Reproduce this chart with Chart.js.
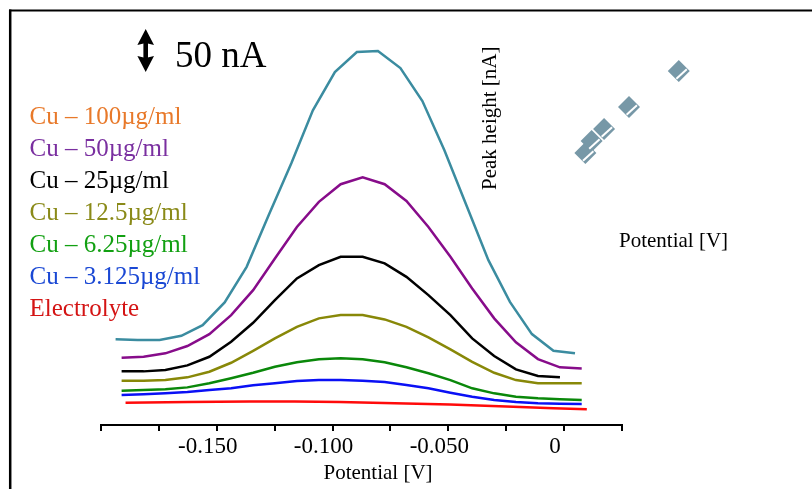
<!DOCTYPE html>
<html>
<head>
<meta charset="utf-8">
<script src="https://cdn.jsdelivr.net/npm/chart.js@4/dist/chart.umd.min.js"></script>
<style>
  html, body { margin: 0; padding: 0; background: #fff; }
  #wrap { width: 812px; height: 489px; }
</style>
</head>
<body>
<div id="wrap"><canvas id="dpvChart" width="812" height="489"></canvas></div>
<script>
// Potential axis (V) for the Cu 100 curve (drawn slightly shifted left)
const potentialTop = [-0.1937, -0.1842, -0.1747, -0.1653, -0.1561, -0.1466, -0.1371, -0.1276, -0.1178, -0.1085, -0.0990,
    -0.0895, -0.0804, -0.0707, -0.0612, -0.0517, -0.0422, -0.0327, -0.0234, -0.0139, -0.0046, 0.0047];
// Potential axis (V) for the other curves
const potential = [-0.1911, -0.1816, -0.1722, -0.1627, -0.1532, -0.1438, -0.1343, -0.1249, -0.1154, -0.1059, -0.0965,
    -0.0870, -0.0775, -0.0681, -0.0586, -0.0491, -0.0397, -0.0302, -0.0208, -0.0113, -0.0018, 0.0076];
const potentialElectrolyte = [-0.1894, -0.1358, -0.0969, -0.0493, -0.0190, 0.0098];

// Current (nA, offset traces)
const cu100 = [97.4, 96.6, 96.6, 101.5, 113.6, 139.4, 179.9, 238.6, 297.7, 357.9, 401.5,
    424.2, 425.3, 406.0, 368.5, 312.5, 250.0, 187.5, 140.1, 103.4, 84.4, 81.5];
const cu50 = [76.5, 77.6, 81.5, 89.8, 103.4, 125.0, 153.4, 189.4, 225.3, 253.8, 273.9,
    281.8, 273.9, 254.9, 225.3, 191.3, 155.3, 121.3, 94.0, 75.0, 65.6, 64.4];
const cu25 = [61.0, 61.0, 62.5, 67.8, 77.6, 94.7, 116.3, 142.0, 166.7, 181.8, 191.3,
    191.3, 183.8, 168.5, 147.7, 125.0, 98.5, 78.4, 63.3, 55.7, 54.2];
const cu12 = [50.3, 50.3, 51.1, 54.2, 60.6, 70.8, 84.4, 98.5, 111.7, 121.3, 125.0,
    125.0, 120.1, 111.7, 99.7, 86.0, 71.9, 59.4, 51.1, 47.4, 47.4, 47.4];
const cu6 = [39.0, 39.8, 40.6, 42.8, 47.4, 53.1, 59.4, 66.3, 71.3, 74.7, 75.8,
    74.7, 71.3, 65.6, 58.8, 51.1, 41.7, 36.0, 32.2, 30.3, 29.2, 28.4];
const cu3 = [34.1, 35.0, 36.0, 37.5, 39.8, 41.7, 45.1, 47.4, 50.0, 51.1, 51.1,
    50.3, 48.9, 45.5, 41.7, 36.7, 32.2, 28.4, 26.1, 24.7, 24.2, 23.9];
const electrolyte = [25.3, 26.7, 26.1, 23.3, 20.5, 17.8];

// Inset: peak height vs concentration
const insetConc = [3.125, 6.25, 12.5, 25, 50];
const insetPeak = [272, 284, 296, 318, 354];

// Tick labels
const tickValues = [-0.15, -0.1, -0.05, 0];
const tickLabels = ["-0.150", "-0.100", "-0.050", "0"];

const legendLabels = ["Cu \u2013 100\u00b5g/ml", "Cu \u2013 50\u00b5g/ml", "Cu \u2013 25\u00b5g/ml",
    "Cu \u2013 12.5\u00b5g/ml", "Cu \u2013 6.25\u00b5g/ml", "Cu \u2013 3.125\u00b5g/ml", "Electrolyte"];
const legendColors = ["#e8792a", "#7a2fa0", "#000000", "#8a8a18", "#12a012", "#1a48d4", "#d41414"];

const SERIF = "'Liberation Serif', 'Times New Roman', serif";

function pts(xs, ys) {
    return ys.map((y, i) => ({ x: xs[i], y: y }));
}

function curve(label, xs, ys, color, order, tension) {
    return {
        label: label,
        data: pts(xs, ys),
        borderColor: color,
        borderWidth: 2.5,
        pointRadius: 0,
        fill: false,
        tension: tension || 0,
        order: order,
    };
}

// Inset markers sit partly outside the chart area, so they are drawn here
// (positions still come from the hidden xi / yi scales)
const insetMarkers = {
    id: "insetMarkers",
    afterDatasetsDraw(chart) {
        const ctx = chart.ctx;
        const xs = chart.scales.xi;
        const ys = chart.scales.yi;
        const r = 11;
        ctx.save();
        insetConc.forEach((c, i) => {
            const px = xs.getPixelForValue(c);
            const py = ys.getPixelForValue(insetPeak[i]);
            ctx.fillStyle = "#7798a7";
            ctx.beginPath();
            ctx.moveTo(px, py - r);
            ctx.lineTo(px + r, py);
            ctx.lineTo(px, py + r);
            ctx.lineTo(px - r, py);
            ctx.closePath();
            ctx.fill();
        });
        // white streak across each marker
        ctx.strokeStyle = "#fff";
        ctx.lineWidth = 2;
        const a = (-42 * Math.PI) / 180;
        insetConc.forEach((c, i) => {
            const px = xs.getPixelForValue(c) + 2.8;
            const py = ys.getPixelForValue(insetPeak[i]) + 3;
            ctx.beginPath();
            ctx.moveTo(px - Math.cos(a) * 7, py - Math.sin(a) * 7);
            ctx.lineTo(px + Math.cos(a) * 7, py + Math.sin(a) * 7);
            ctx.stroke();
        });
        ctx.restore();
    },
};

const annotations = {
    id: "annotations",
    afterDraw(chart) {
        const ctx = chart.ctx;
        ctx.save();

        // frame
        ctx.strokeStyle = "#000";
        ctx.lineWidth = 2;
        ctx.beginPath();
        ctx.moveTo(9, 10.5);
        ctx.lineTo(812, 10.5);
        ctx.stroke();
        ctx.lineWidth = 2.5;
        ctx.beginPath();
        ctx.moveTo(10.2, 9.5);
        ctx.lineTo(10.2, 489);
        ctx.stroke();

        // 50 nA scale arrow
        ctx.fillStyle = "#000";
        ctx.fillRect(143.4, 42, 4.6, 16);
        ctx.beginPath();
        ctx.moveTo(145.7, 29);
        ctx.lineTo(154, 45);
        ctx.lineTo(145.7, 43);
        ctx.lineTo(137.4, 45);
        ctx.closePath();
        ctx.fill();
        ctx.beginPath();
        ctx.moveTo(145.7, 72);
        ctx.lineTo(154, 56);
        ctx.lineTo(145.7, 58);
        ctx.lineTo(137.4, 56);
        ctx.closePath();
        ctx.fill();

        ctx.textBaseline = "alphabetic";
        ctx.textAlign = "left";
        ctx.font = "37px " + SERIF;
        ctx.fillText("50 nA", 175, 66.5);

        // legend text
        ctx.font = "25px " + SERIF;
        legendLabels.forEach((t, i) => {
            ctx.fillStyle = legendColors[i];
            ctx.fillText(t, 29.5, 123.5 + i * 32);
        });

        // inset titles
        ctx.fillStyle = "#000";
        ctx.font = "21px " + SERIF;
        ctx.fillText("Potential [V]", 619, 246.5);
        ctx.save();
        ctx.translate(495.5, 190);
        ctx.rotate(-Math.PI / 2);
        ctx.fillText("Peak height [nA]", 0, 0);
        ctx.restore();

        // main axis title
        ctx.font = "21px " + SERIF;
        ctx.fillText("Potential [V]", 323.5, 479);

        ctx.restore();
    },
};

new Chart(document.getElementById("dpvChart").getContext("2d"), {
    type: "line",
    data: {
        datasets: [
            curve("Cu 100", potentialTop, cu100, "#3b8ca0", 2),
            curve("Cu 50", potential, cu50, "#870c8a", 3),
            curve("Cu 25", potential, cu25, "#000000", 4),
            curve("Cu 12.5", potential, cu12, "#888808", 5),
            curve("Cu 6.25", potential, cu6, "#0a880a", 6),
            curve("Cu 3.125", potential, cu3, "#0a10f5", 7),
            curve("Electrolyte", potentialElectrolyte, electrolyte, "#ff0a0a", 8, 0.3),
        ],
    },
    options: {
        responsive: false,
        animation: false,
        layout: {
            padding: { left: 101, right: 190, top: 25, bottom: 0 },
        },
        plugins: {
            legend: { display: false },
            tooltip: { enabled: false },
        },
        scales: {
            x: {
                type: "linear",
                position: "bottom",
                min: -0.2,
                max: 0.025,
                afterFit: (scale) => {
                    scale.height = 64;
                },
                border: { display: true, color: "#000", width: 2 },
                grid: {
                    display: true,
                    drawOnChartArea: false,
                    drawTicks: true,
                    tickLength: 6,
                    color: "#000",
                    lineWidth: 2,
                },
                ticks: {
                    stepSize: 0.025,
                    autoSkip: false,
                    maxRotation: 0,
                    padding: 2,
                    labelOffset: -9,
                    color: "#000",
                    font: { family: SERIF, size: 23 },
                    callback: (v) => {
                        const i = tickValues.findIndex((t) => Math.abs(t - v) < 1e-6);
                        return i >= 0 ? tickLabels[i] : "";
                    },
                },
            },
            y: { display: false, min: 0, max: 455 },
            xi: { type: "linear", display: false, min: -240, max: 21.5 },
            yi: { type: "linear", display: false, min: 0, max: 400 },
        },
    },
    plugins: [insetMarkers, annotations],
});
</script>
</body>
</html>
